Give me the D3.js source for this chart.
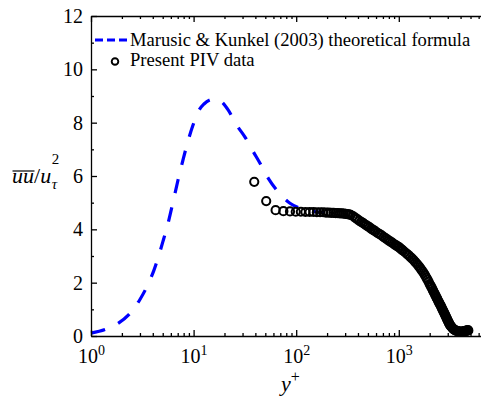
<!DOCTYPE html>
<html>
<head>
<meta charset="utf-8">
<script src="https://cdn.jsdelivr.net/npm/d3@7"></script>
<style>
  html, body { margin: 0; padding: 0; background: #fff; }
  svg { display: block; }
  svg text { font-family: "Liberation Serif", Tinos, "Times New Roman", Times, "DejaVu Serif", "Noto Serif", serif; }
</style>
</head>
<body>
<script>
// Theoretical streamwise variance profile (Marusic & Kunkel 2003)
const theoryYplus = [1, 1.37, 1.83, 2.35, 3.00, 3.57, 4.11, 4.60, 5.09, 5.63, 6.30, 7.05, 7.88, 8.82, 9.87,
  11.04, 12.63, 14.45, 16.53, 18.92, 21.78, 26.31, 31.70, 38.19, 44.38, 53.47, 64.56, 87.0, 108.9, 136.3, 190.9];
const theoryValue = [0.11, 0.24, 0.47, 0.81, 1.37, 1.91, 2.47, 3.04, 3.62, 4.22, 5.02, 5.85, 6.60, 7.31, 7.91,
  8.40, 8.70, 8.85, 8.89, 8.77, 8.47, 7.91, 7.46, 6.91, 6.48, 5.91, 5.47, 4.98, 4.79, 4.69, 4.63];

// PIV measurements
const pivYplus = [39, 51, 63, 75, 87, 99, 111, 123, 135, 147, 159, 171, 183, 195, 207, 219, 231, 243, 255, 267, 279, 291, 303, 315, 327, 339,
  357, 375, 393, 411, 429, 447, 465, 483, 501, 519, 537, 555, 573, 591,
  620, 650, 680, 710, 740, 770, 800, 830, 860, 890, 920, 950, 980, 1010, 1040, 1070, 1100,
  1150, 1200, 1250, 1300, 1350, 1400, 1450, 1500, 1550, 1600, 1650, 1700, 1750, 1800, 1850, 1900, 1950, 2000,
  2040, 2080, 2120, 2160, 2200, 2240, 2280, 2320, 2360, 2400, 2440, 2480, 2520, 2560, 2600, 2640, 2680, 2720, 2760, 2800,
  2840, 2880, 2920, 2960, 3000, 3040, 3080, 3120, 3160, 3200,
  3280, 3360, 3440, 3520, 3600, 3680, 3760, 3840, 3920, 4000, 4080, 4160, 4240, 4320, 4400, 4480, 4560, 4640, 4720, 4760];
const pivValue = [5.78, 5.06, 4.72, 4.68, 4.67, 4.66, 4.66, 4.65, 4.65, 4.65, 4.64, 4.64, 4.64, 4.63, 4.63, 4.62, 4.62, 4.61, 4.61, 4.60, 4.60, 4.59, 4.58, 4.57, 4.56, 4.54,
  4.50, 4.44, 4.38, 4.33, 4.28, 4.24, 4.19, 4.15, 4.11, 4.07, 4.03, 3.99, 3.96, 3.92,
  3.87, 3.82, 3.77, 3.72, 3.67, 3.62, 3.58, 3.54, 3.50, 3.46, 3.42, 3.39, 3.35, 3.32, 3.28, 3.24, 3.20,
  3.14, 3.08, 3.02, 2.96, 2.90, 2.84, 2.77, 2.71, 2.64, 2.57, 2.50, 2.43, 2.36, 2.28, 2.20, 2.12, 2.04, 1.95,
  1.89, 1.83, 1.77, 1.70, 1.64, 1.58, 1.52, 1.46, 1.41, 1.35, 1.29, 1.24, 1.19, 1.14, 1.09, 1.03, 0.98, 0.93, 0.88, 0.83,
  0.78, 0.73, 0.68, 0.63, 0.58, 0.54, 0.49, 0.45, 0.41, 0.38,
  0.33, 0.28, 0.25, 0.22, 0.20, 0.19, 0.18, 0.17, 0.16, 0.16, 0.16, 0.165, 0.17, 0.17, 0.18, 0.19, 0.20, 0.21, 0.21, 0.21];

// Axis ticks and legend text
const yMajorTicks = [0, 2, 4, 6, 8, 10, 12];
const yMinorTicks = [1, 3, 5, 7, 9, 11];
const xDecades = [1, 10, 100, 1000, 10000];
const xLabelled = [1, 10, 100, 1000];
const xExponents = ["0", "1", "2", "3"];
const legendLabels = ["Marusic & Kunkel (2003) theoretical formula", "Present PIV data"];

const W = 481, H = 400;
const plotLeft = 91, plotTop = 16, plotBottom = 336, decade = 102.6;
const plotRight = plotLeft + 4 * decade;
const BLUE = "#0000ff";

const svg = d3.select("body").append("svg")
  .attr("width", W).attr("height", H);

const x = d3.scaleLog().domain([1, 1e4]).range([plotLeft, plotRight]);
const y = d3.scaleLinear().domain([0, 12]).range([plotBottom, plotTop]);

const xMinor = [];
xDecades.slice(0, 4).forEach(d => { for (let k = 2; k <= 9; k++) xMinor.push(d * k); });

// ---- marks ----
const th = d3.zip(theoryYplus, theoryValue);
const line = d3.line().x(d => x(d[0])).y(d => y(d[1])).curve(d3.curveMonotoneX);
svg.append("path")
  .datum(th)
  .attr("d", line)
  .attr("fill", "none")
  .attr("stroke", BLUE)
  .attr("stroke-width", 3.2)
  .attr("stroke-dasharray", "14.5,14.5");

const piv = d3.zip(pivYplus, pivValue);
svg.append("g")
  .selectAll("circle")
  .data(piv)
  .join("circle")
  .attr("cx", d => x(d[0]))
  .attr("cy", d => y(d[1]))
  .attr("r", 4.1)
  .attr("fill", "none")
  .attr("stroke", "#000")
  .attr("stroke-width", 2);

// ---- axes (ticks point inward) ----
function styleAxis(g) {
  g.attr("font-family", null).attr("font-size", 20);
  g.selectAll("path, line").attr("stroke", "#000").attr("stroke-width", 1.3);
  g.selectAll("text").attr("fill", "#000");
}
const noLabel = () => "";

// bottom
const gxMinor = svg.append("g").attr("transform", `translate(0,${plotBottom})`)
  .call(d3.axisBottom(x).tickValues(xMinor).tickSizeInner(-3).tickSizeOuter(0).tickFormat(noLabel));
gxMinor.select(".domain").remove();
styleAxis(gxMinor);

const gx = svg.append("g").attr("transform", `translate(0,${plotBottom})`)
  .call(d3.axisBottom(x).tickValues(xDecades).tickSizeInner(-6).tickSizeOuter(0).tickFormat(noLabel));
styleAxis(gx);

// decade labels 10^n
const gxl = svg.append("g").attr("transform", `translate(0,${plotBottom})`)
  .call(d3.axisBottom(x).tickValues(xLabelled).tickSize(0).tickFormat(noLabel));
gxl.select(".domain").remove();
styleAxis(gxl);
gxl.selectAll(".tick text").each(function (d, i) {
  const t = d3.select(this).attr("y", 27).attr("dy", null).text(null);
  t.append("tspan").text("10");
  t.append("tspan").attr("dy", -8.5).attr("font-size", 14).text(xExponents[i]);
});

// top
const gtMinor = svg.append("g").attr("transform", `translate(0,${plotTop})`)
  .call(d3.axisTop(x).tickValues(xMinor).tickSizeInner(-3).tickSizeOuter(0).tickFormat(noLabel));
gtMinor.select(".domain").remove();
styleAxis(gtMinor);
const gt = svg.append("g").attr("transform", `translate(0,${plotTop})`)
  .call(d3.axisTop(x).tickValues(xDecades).tickSizeInner(-6).tickSizeOuter(0).tickFormat(noLabel));
styleAxis(gt);

// left
const gyMinor = svg.append("g").attr("transform", `translate(${plotLeft},0)`)
  .call(d3.axisLeft(y).tickValues(yMinorTicks).tickSizeInner(-3).tickSizeOuter(0).tickFormat(noLabel));
gyMinor.select(".domain").remove();
styleAxis(gyMinor);
const gy = svg.append("g").attr("transform", `translate(${plotLeft},0)`)
  .call(d3.axisLeft(y).tickValues(yMajorTicks).tickSizeInner(-6).tickSizeOuter(0).tickPadding(8).tickFormat(d3.format("d")));
styleAxis(gy);

// right
const gr = svg.append("g").attr("transform", `translate(${plotRight},0)`)
  .call(d3.axisRight(y).tickValues(yMajorTicks).tickSizeInner(-6).tickSizeOuter(0).tickFormat(noLabel));
styleAxis(gr);

// ---- axis titles ----
const xt = svg.append("text")
  .attr("x", 281).attr("y", 391)
  .attr("font-size", 22).attr("fill", "#000");
xt.append("tspan").attr("font-style", "italic").text("y");
xt.append("tspan").attr("dy", -9).attr("font-size", 16).text("+");

const yl = svg.append("g").attr("fill", "#000");
const yx0 = 12, yBase = 183;
const uu = yl.append("text").attr("x", yx0).attr("y", yBase)
  .attr("font-size", 22).attr("font-style", "italic").text("uu");
const uuW = uu.node().getComputedTextLength();
const rest = yl.append("text").attr("x", yx0 + uuW).attr("y", yBase)
  .attr("font-size", 22);
rest.append("tspan").text("/");
rest.append("tspan").attr("font-style", "italic").text("u");
const restW = rest.node().getComputedTextLength();
yl.append("line")
  .attr("x1", yx0 + 0.5).attr("x2", yx0 + uuW + 0.5)
  .attr("y1", 171).attr("y2", 171)
  .attr("stroke", "#000").attr("stroke-width", 1.2);
yl.append("text").attr("x", yx0 + uuW + restW + 0.5).attr("y", yBase + 6)
  .attr("font-size", 15).attr("font-style", "italic").text("τ");
yl.append("text").attr("x", yx0 + uuW + restW + 0.5).attr("y", yBase - 19)
  .attr("font-size", 15).text("2");

// ---- legend ----
const lg = svg.append("g");
lg.append("line")
  .attr("x1", 95).attr("x2", 127).attr("y1", 40).attr("y2", 40)
  .attr("stroke", BLUE).attr("stroke-width", 3.2).attr("stroke-dasharray", "8,4");
lg.append("text").attr("x", 130).attr("y", 46).attr("font-size", 18.6).attr("fill", "#000").text(legendLabels[0]);
lg.append("circle").attr("cx", 115).attr("cy", 61.5).attr("r", 3.3)
  .attr("fill", "none").attr("stroke", "#000").attr("stroke-width", 1.9);
lg.append("text").attr("x", 130).attr("y", 66).attr("font-size", 18.6).attr("fill", "#000").text(legendLabels[1]);
</script>
</body>
</html>
